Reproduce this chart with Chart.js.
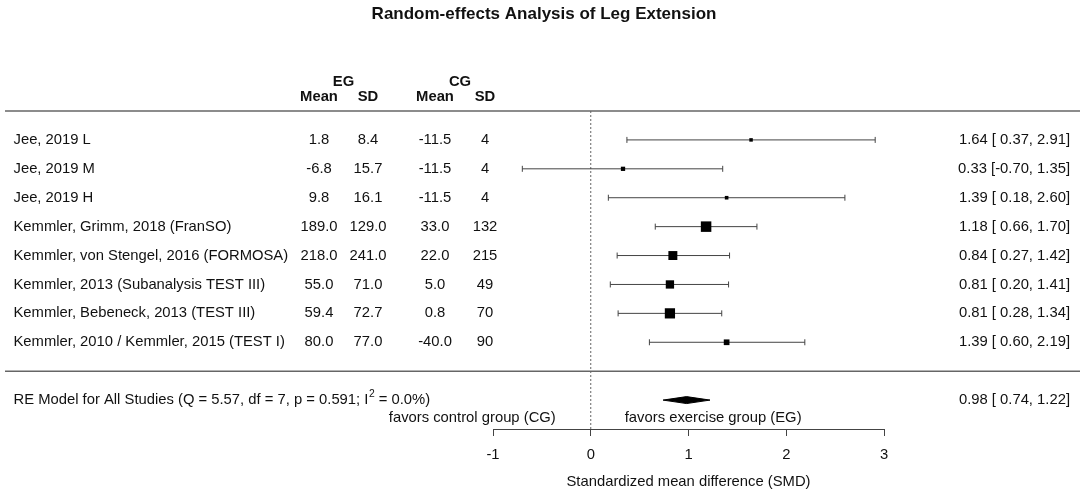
<!DOCTYPE html>
<html>
<head>
<meta charset="utf-8">
<script src="https://cdn.jsdelivr.net/npm/chart.js@4.4.0/dist/chart.umd.min.js"></script>
<style>
  html, body { margin: 0; padding: 0; background: #fff; }
  #wrap { width: 1084px; height: 494px; }
</style>
</head>
<body>
<div id="wrap"><canvas id="forest" width="1084" height="494"></canvas></div>
<script>
const studies = [
    'Jee, 2019 L',
    'Jee, 2019 M',
    'Jee, 2019 H',
    'Kemmler, Grimm, 2018 (FranSO)',
    'Kemmler, von Stengel, 2016 (FORMOSA)',
    'Kemmler, 2013 (Subanalysis TEST III)',
    'Kemmler, Bebeneck, 2013 (TEST III)',
    'Kemmler, 2010 / Kemmler, 2015 (TEST I)'
];
const egMean = [1.8, -6.8, 9.8, 189.0, 218.0, 55.0, 59.4, 80.0];
const egSd = [8.4, 15.7, 16.1, 129.0, 241.0, 71.0, 72.7, 77.0];
const cgMean = [-11.5, -11.5, -11.5, 33.0, 22.0, 5.0, 0.8, -40.0];
const cgSd = [4, 4, 4, 132, 215, 49, 70, 90];

const smd = [1.64, 0.33, 1.39, 1.18, 0.84, 0.81, 0.81, 1.39];
const ciLower = [0.37, -0.70, 0.18, 0.66, 0.27, 0.20, 0.28, 0.60];
const ciUpper = [2.91, 1.35, 2.60, 1.70, 1.42, 1.41, 1.34, 2.19];
// study weights (%)
const weights = [3.7, 5.7, 4.0, 21.9, 17.9, 16.2, 21.2, 9.4];

const pooledEst = 0.98;
const pooledLower = 0.74;
const pooledUpper = 1.22;
const pooledStats = { Q: '5.57', df: 7, p: '0.591', I2: '0.0%' };

const xTicks = [-1, 0, 1, 2, 3];

const FONT = '"Liberation Sans", Arial, Helvetica, sans-serif';
const FS = 14.8;
const TXT = '#111';
const LINE = '#444';

const k = studies.length;
const rowOf = i => k - i;

function fmtCI(est, lo, hi) {
    const l = (lo >= 0 ? ' ' : '') + lo.toFixed(2);
    return est.toFixed(2) + ' [' + l + ', ' + hi.toFixed(2) + ']';
}

const wMin = Math.min(...weights), wMax = Math.max(...weights);
const squareSide = w => 3.5 + 7 * (w - wMin) / (wMax - wMin);

const ciSets = studies.map((s, i) => ({
    data: [{ x: ciLower[i], y: rowOf(i) }, { x: ciUpper[i], y: rowOf(i) }],
    showLine: true,
    borderColor: LINE,
    borderWidth: 1,
    pointStyle: 'line',
    rotation: 90,
    pointRadius: 3,
    pointHoverRadius: 3,
    pointBorderColor: LINE,
    pointBorderWidth: 1,
    clip: false,
    order: 2
}));

const squares = {
    data: smd.map((v, i) => ({ x: v, y: rowOf(i) })),
    pointStyle: 'rect',
    pointRadius: weights.map(w => squareSide(w) / Math.SQRT2),
    pointHoverRadius: weights.map(w => squareSide(w) / Math.SQRT2),
    backgroundColor: '#000',
    borderColor: '#000',
    pointBorderWidth: 0,
    clip: false,
    order: 1
};

const dh = 0.12;
const diamond = {
    data: [
        { x: pooledLower, y: -1 },
        { x: pooledEst, y: -1 + dh },
        { x: pooledUpper, y: -1 },
        { x: pooledEst, y: -1 - dh },
        { x: pooledLower, y: -1 }
    ],
    showLine: true,
    fill: 'shape',
    backgroundColor: '#000',
    borderColor: '#000',
    borderWidth: 1,
    pointRadius: 0,
    clip: false,
    order: 1
};

const zeroLine = {
    data: [{ x: 0, y: k + 1 }, { x: 0, y: -2 }],
    showLine: true,
    borderColor: '#666',
    borderWidth: 1,
    borderDash: [2, 2],
    pointRadius: 0,
    clip: false,
    order: 3
};

const forestText = {
    id: 'forestText',
    afterDraw(chart) {
        const ctx = chart.ctx;
        const X = v => chart.scales.x.getPixelForValue(v);
        const Y = r => chart.scales.y.getPixelForValue(r);
        const cols = [319, 368, 435, 485];
        ctx.save();
        ctx.fillStyle = TXT;
        ctx.textBaseline = 'middle';

        // title
        ctx.font = 'bold 17px ' + FONT;
        ctx.textAlign = 'center';
        ctx.fillText('Random-effects Analysis of Leg Extension', 544, 14);

        // headers
        ctx.font = 'bold ' + FS + 'px ' + FONT;
        ctx.fillText('EG', (cols[0] + cols[1]) / 2, Y(k + 2));
        ctx.fillText('CG', (cols[2] + cols[3]) / 2, Y(k + 2));
        ['Mean', 'SD', 'Mean', 'SD'].forEach((h, j) => ctx.fillText(h, cols[j], Y(k + 1.5)));

        // rules
        ctx.strokeStyle = '#666';
        ctx.lineWidth = 1.5;
        [k + 1, 0].forEach(r => {
            ctx.beginPath();
            ctx.moveTo(5, Y(r));
            ctx.lineTo(1080, Y(r));
            ctx.stroke();
        });

        // study rows
        ctx.font = FS + 'px ' + FONT;
        studies.forEach((s, i) => {
            const y = Y(rowOf(i));
            ctx.textAlign = 'left';
            ctx.fillText(s, 13.5, y);
            ctx.textAlign = 'center';
            ctx.fillText(egMean[i].toFixed(1), cols[0], y);
            ctx.fillText(egSd[i].toFixed(1), cols[1], y);
            ctx.fillText(cgMean[i].toFixed(1), cols[2], y);
            ctx.fillText(String(cgSd[i]), cols[3], y);
            ctx.textAlign = 'right';
            ctx.fillText(fmtCI(smd[i], ciLower[i], ciUpper[i]), 1070, y);
        });

        // pooled row
        const yRe = Y(-1);
        ctx.textAlign = 'left';
        let x = 13.5;
        const part1 = 'RE Model for All Studies (Q = ' + pooledStats.Q + ', df = ' + pooledStats.df +
            ', p = ' + pooledStats.p + '; I';
        ctx.fillText(part1, x, yRe);
        x += ctx.measureText(part1).width;
        ctx.font = (FS * 0.7) + 'px ' + FONT;
        ctx.fillText('2', x + 0.5, yRe - 6);
        x += ctx.measureText('2').width + 0.5;
        ctx.font = FS + 'px ' + FONT;
        ctx.fillText(' = ' + pooledStats.I2 + ')', x, yRe);
        ctx.textAlign = 'right';
        ctx.fillText(fmtCI(pooledEst, pooledLower, pooledUpper), 1070, yRe);

        // favors labels
        const yFav = Y(-1.63);
        ctx.textAlign = 'right';
        ctx.fillText('favors control group (CG)', X(0) - 35, yFav);
        ctx.textAlign = 'left';
        ctx.fillText('favors exercise group (EG)', X(0) + 34, yFav);
        ctx.restore();
    }
};

new Chart(document.getElementById('forest'), {
    type: 'scatter',
    data: { datasets: [...ciSets, squares, diamond, zeroLine] },
    options: {
        responsive: false,
        animation: false,
        devicePixelRatio: 1,
        layout: { padding: { left: 493, right: 200, top: 111, bottom: 0 } },
        plugins: { legend: { display: false }, tooltip: { enabled: false }, title: { display: false } },
        events: [],
        scales: {
            x: {
                type: 'linear',
                min: -1,
                max: 3,
                afterBuildTicks: s => { s.ticks = xTicks.map(v => ({ value: v })); },
                afterFit: s => { s.height = 65; },
                grid: { drawOnChartArea: false, drawTicks: true, tickLength: 7, color: LINE, lineWidth: 1 },
                border: { display: true, color: LINE, width: 1 },
                ticks: { color: TXT, font: { family: FONT, size: FS }, padding: 10, maxRotation: 0 },
                title: {
                    display: true,
                    text: 'Standardized mean difference (SMD)',
                    color: TXT,
                    font: { family: FONT, size: FS },
                    padding: { top: 0, bottom: 3 }
                }
            },
            y: { type: 'linear', min: -2, max: k + 1, display: false }
        }
    },
    plugins: [forestText]
});
</script>
</body>
</html>
